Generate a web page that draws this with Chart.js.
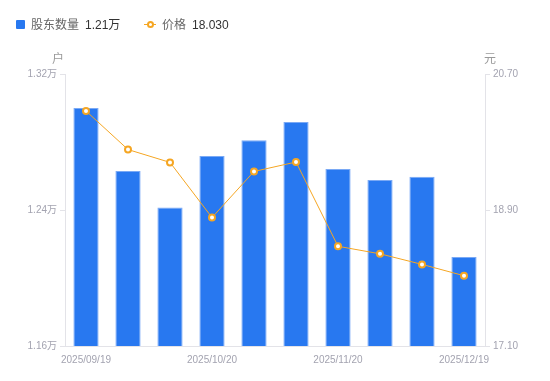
<!DOCTYPE html>
<html>
<head>
<meta charset="utf-8">
<script src="https://cdn.jsdelivr.net/npm/chart.js@4"></script>
<style>
  body { margin: 0; background: #fff; font-family: "Liberation Sans", "Noto Sans CJK SC", sans-serif; }
  #wrap { position: relative; width: 550px; height: 381px; }
  .legend { position: absolute; top: 15px; font-size: 12px; color: #666; white-space: nowrap; }
  .legend b { font-weight: normal; color: #333; margin-left: 6px; }
  .sq { display: inline-block; width: 9px; height: 9px; background: #2878F0; border-radius: 1px; margin-right: 6px; vertical-align: 0px; }
  .mk { display: inline-block; position: relative; width: 12px; height: 9px; margin-right: 6px; vertical-align: 0px; }
  .mk i { position: absolute; left: 0; right: 0; top: 4px; height: 1px; background: #F5A623; }
  .mk s { position: absolute; left: 3px; top: 1px; width: 3px; height: 3px; border: 2px solid #F5A623; border-radius: 50%; background: #fff; }
</style>
</head>
<body>
<div id="wrap">
  <canvas id="c" width="550" height="381"></canvas>
  <div class="legend" style="left:16px"><span class="sq"></span>股东数量<b>1.21万</b></div>
  <div class="legend" style="left:144px"><span class="mk"><i></i><s></s></span>价格<b>18.030</b></div>
</div>
<script>
// 日期
const dates = ["2025/09/19", "2025/09/30", "2025/10/10", "2025/10/20", "2025/10/31",
               "2025/11/10", "2025/11/20", "2025/11/30", "2025/12/10", "2025/12/19"];
// 股东数量 (万户)
const holders = [1.300, 1.263, 1.2415, 1.2718, 1.2811, 1.2917, 1.2641, 1.2577, 1.2596, 1.2123];
// 价格 (元)
const prices = [20.21, 19.70, 19.53, 18.80, 19.41, 19.535, 18.42, 18.32, 18.18, 18.03];
const holderTicks = [1.16, 1.24, 1.32];
const priceTicks = [17.10, 18.90, 20.70];
const shownDates = ["2025/09/19", "2025/10/20", "2025/11/20", "2025/12/19"];

const tickFont = { family: "'Liberation Sans', 'Noto Sans CJK SC'", size: 10 };
const tickColor = '#a3a3b0';
const axisColor = '#e3e3e8';

// axis unit labels above the y axes
const unitLabels = {
    id: 'unitLabels',
    afterDraw(chart) {
        const c = chart.ctx;
        const top = chart.chartArea.top;
        c.save();
        c.font = "12px 'Noto Sans CJK SC'";
        c.fillStyle = '#999';
        c.textBaseline = 'middle';
        c.textAlign = 'center';
        c.fillText('户', chart.scales.y.right - 7, top - 16);
        c.fillText('元', chart.scales.y1.left + 5, top - 16);
        c.restore();
    }
};

new Chart(document.getElementById('c'), {
    data: {
        labels: dates,
        datasets: [{
            type: 'line',
            label: '价格',
            data: prices,
            yAxisID: 'y1',
            borderColor: '#F5A623',
            borderWidth: 1,
            pointRadius: 3,
            pointBorderWidth: 2,
            pointBackgroundColor: '#fff',
            pointBorderColor: '#F5A623',
            tension: 0,
            order: 0
        }, {
            type: 'bar',
            label: '股东数量',
            data: holders,
            yAxisID: 'y',
            backgroundColor: '#2878F0',
            borderColor: '#7aa9f5',
            borderWidth: 1,
            barPercentage: 0.6,
            categoryPercentage: 1,
            order: 1
        }]
    },
    options: {
        responsive: false,
        animation: false,
        layout: { padding: { top: 74, left: 0, right: 0, bottom: 0 } },
        plugins: { legend: { display: false }, tooltip: { enabled: false } },
        scales: {
            x: {
                grid: { display: false },
                border: { color: axisColor },
                ticks: {
                    color: tickColor, font: tickFont, maxRotation: 0, autoSkip: false, padding: 0,
                    callback: function(v) {
                        const l = this.getLabelForValue(v);
                        return shownDates.includes(l) ? l : '';
                    }
                },
                afterFit: s => { s.height = 35; }
            },
            y: {
                position: 'left',
                min: 1.16, max: 1.32,
                afterBuildTicks: s => { s.ticks = holderTicks.map(v => ({ value: v })); },
                grid: { drawOnChartArea: false, tickLength: 5, color: axisColor },
                border: { color: axisColor },
                ticks: { color: tickColor, font: tickFont, padding: 3, callback: v => v.toFixed(2) + '万' },
                afterFit: s => { s.width = 65; }
            },
            y1: {
                position: 'right',
                min: 17.10, max: 20.70,
                afterBuildTicks: s => { s.ticks = priceTicks.map(v => ({ value: v })); },
                grid: { drawOnChartArea: false, tickLength: 5, color: axisColor },
                border: { color: axisColor },
                ticks: { color: tickColor, font: tickFont, padding: 3, callback: v => v.toFixed(2) },
                afterFit: s => { s.width = 65; }
            }
        }
    },
    plugins: [unitLabels]
});
</script>
</body>
</html>
